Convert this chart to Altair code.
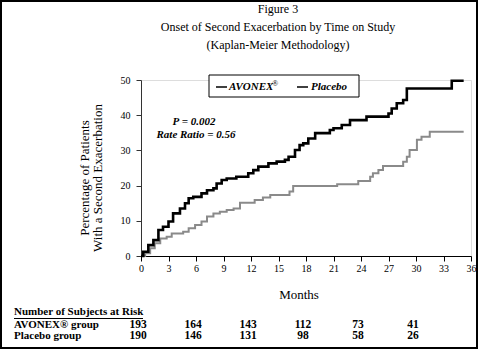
import altair as alt
import pandas as pd

# ---- data ----
avonex_months = [0, 0.25, 0.8, 1.35, 1.9, 2.4, 3.0, 3.5, 4.25, 4.8, 5.2, 5.7, 6.6, 7.2, 7.9,
                 8.25, 8.8, 9.35, 10.4, 11.7, 12.25, 12.8, 13.9, 14.8, 15.7, 16.1, 16.8, 17.3,
                 17.7, 18.25, 19.0, 20.6, 21.0, 21.9, 22.8, 24.6, 27.0, 27.35, 27.9, 28.6,
                 29.0, 33.9, 35.2]
avonex_pct = [0, 1.2, 3.1, 4.5, 7.4, 8.3, 9.8, 12.1, 13.5, 15.0, 16.4, 16.8, 17.8, 18.7, 19.2,
              20.6, 21.6, 22.0, 22.5, 23.5, 24.4, 25.4, 26.3, 26.8, 27.3, 28.2, 30.1, 31.5,
              32.0, 33.4, 34.9, 35.8, 36.3, 37.2, 38.6, 39.6, 40.5, 41.9, 43.4, 44.3,
              47.6, 49.8, 49.8]

placebo_months = [0, 0.45, 1.0, 1.5, 2.1, 2.8, 3.35, 4.6, 5.2, 5.9, 6.6, 7.2, 7.9, 8.6, 9.35,
                  10.1, 10.8, 12.4, 13.3, 14.1, 16.2, 16.6, 21.4, 23.7, 25.0, 25.3, 25.9, 26.4,
                  28.6, 29.0, 29.3, 30.1, 30.6, 31.5, 35.2]
placebo_pct = [0, 0.8, 2.2, 3.6, 5.0, 5.5, 6.4, 6.9, 7.9, 8.8, 9.8, 11.2, 12.1, 12.6, 13.1,
               13.5, 15.1, 15.9, 16.6, 17.3, 18.3, 19.9, 20.4, 21.3, 22.5, 23.5, 24.4, 25.6,
               26.8, 28.2, 30.1, 33.0, 33.9, 35.3, 35.3]

risk_months = [0, 6, 12, 18, 24, 30]
avonex_at_risk = [193, 164, 143, 112, 73, 41]
placebo_at_risk = [190, 146, 131, 98, 58, 26]

x_ticks = [0, 3, 6, 9, 12, 15, 18, 21, 24, 27, 30, 33, 36]
y_ticks = [0, 10, 20, 30, 40, 50]

title_lines = ["Figure 3", "Onset of Second Exacerbation by Time on Study",
               "(Kaplan-Meier Methodology)"]
y_title_lines = ["Percentage of Patients", "With a Second Exacerbation"]
x_title = "Months"
series_names = ["AVONEX", "Placebo"]
stats_lines = ["P = 0.002", "Rate Ratio = 0.56"]
table_header = "Number of Subjects at Risk"
row_labels = ["AVONEX\u00ae group", "Placebo group"]

FONT = "Liberation Serif"
W, H = 330, 176

x_scale = alt.Scale(domain=[0, 36], nice=False, zero=False)
y_scale = alt.Scale(domain=[0, 50], nice=False)

x_axis = alt.Axis(values=x_ticks, title=None, grid=False, tickSize=5, labelFontSize=10,
                  labelPadding=2, domainColor="black", tickColor="black", labelColor="black",
                  labelFont=FONT, format="d", labelOverlap=False, labelFlush=False)
y_axis = alt.Axis(values=y_ticks, title=None, grid=False, tickSize=5, labelFontSize=10,
                  labelPadding=6, domainColor="#333", tickColor="#333", labelColor="black",
                  labelFont=FONT, format="d", labelOverlap=False, labelFlush=False)


def xq(field):
    return alt.X(field, type="quantitative", scale=x_scale, axis=x_axis)


def yq(field):
    return alt.Y(field, type="quantitative", scale=y_scale, axis=y_axis)


av_df = pd.DataFrame({"month": avonex_months, "pct": avonex_pct})
pl_df = pd.DataFrame({"month": placebo_months, "pct": placebo_pct})

placebo_line = alt.Chart(pl_df).mark_line(interpolate="step-after", color="#8a8a8a",
                                          strokeWidth=2).encode(x=xq("month"), y=yq("pct"))
avonex_line = alt.Chart(av_df).mark_line(interpolate="step-after", color="black",
                                         strokeWidth=2.6).encode(x=xq("month"), y=yq("pct"))


def txt(s, x, y, **kw):
    base = dict(font=FONT, fontSize=12, color="black")
    base.update(kw)
    return alt.Chart(pd.DataFrame({"t": [s]})).mark_text(**base).encode(
        x=alt.value(x), y=alt.value(y), text="t:N")


one = pd.DataFrame({"a": [0]})

layers = [placebo_line, avonex_line]

# frame around figure
layers.append(alt.Chart(one).mark_rect(filled=False, stroke="black", strokeWidth=2).encode(
    x=alt.value(-140), x2=alt.value(336), y=alt.value(-79), y2=alt.value(268)))

# titles
layers.append(txt(title_lines[0], 137, -71, fontSize=12, baseline="middle"))
layers.append(txt(title_lines[1], 137, -53, fontSize=12, baseline="middle"))
layers.append(txt(title_lines[2], 137, -35, fontSize=12, baseline="middle"))

# y title (two rotated lines)
layers.append(txt(y_title_lines[0], -56, 98, fontSize=13, angle=270, baseline="middle"))
layers.append(txt(y_title_lines[1], -43, 98, fontSize=13, angle=270, baseline="middle"))

# x title
layers.append(txt(x_title, 158, 215, fontSize=13, baseline="middle"))

# legend box
layers.append(alt.Chart(one).mark_rect(fill="white", stroke="black", strokeWidth=1).encode(
    x=alt.value(68), x2=alt.value(218), y=alt.value(-5), y2=alt.value(17)))
layers.append(alt.Chart(one).mark_rule(color="black", strokeWidth=1.5).encode(
    x=alt.value(75), x2=alt.value(86), y=alt.value(7)))
layers.append(alt.Chart(one).mark_rule(color="black", strokeWidth=1.5).encode(
    x=alt.value(156), x2=alt.value(167), y=alt.value(7)))
layers.append(txt(series_names[0], 88, 7, fontSize=11, fontStyle="italic", fontWeight="bold",
                  align="left", baseline="middle"))
layers.append(txt("\u00ae", 131, 4, fontSize=8, fontStyle="italic", align="left",
                  baseline="middle"))
layers.append(txt(series_names[1], 170, 7, fontSize=11, fontStyle="italic", fontWeight="bold",
                  align="left", baseline="middle"))

# stats annotation
layers.append(txt(stats_lines[0], 53, 42, fontSize=11, fontStyle="italic", fontWeight="bold",
                  baseline="middle"))
layers.append(txt(stats_lines[1], 55, 55, fontSize=11, fontStyle="italic", fontWeight="bold",
                  baseline="middle"))

# table of subjects at risk
layers.append(txt(table_header, -127, 232, fontSize=11, fontWeight="bold", align="left",
                  baseline="middle"))
layers.append(alt.Chart(one).mark_rule(color="black", strokeWidth=1).encode(
    x=alt.value(-127), x2=alt.value(2), y=alt.value(238.5)))
layers.append(txt(row_labels[0], -127, 245, fontSize=11, fontWeight="bold", align="left",
                  baseline="middle"))
layers.append(txt(row_labels[1], -127, 256, fontSize=11, fontWeight="bold", align="left",
                  baseline="middle"))

risk_df = pd.DataFrame({"month": risk_months, "av": avonex_at_risk, "pl": placebo_at_risk})
layers.append(alt.Chart(risk_df).mark_text(font=FONT, fontSize=11.5, fontWeight="bold",
                                           color="black", baseline="middle", dx=-3).encode(
    x=xq("month"), y=alt.value(245), text="av:Q"))
layers.append(alt.Chart(risk_df).mark_text(font=FONT, fontSize=11.5, fontWeight="bold",
                                           color="black", baseline="middle", dx=-3).encode(
    x=xq("month"), y=alt.value(256), text="pl:Q"))

chart = alt.layer(*layers).properties(
    width=W, height=H,
    autosize=alt.AutoSizeParams(type="none"),
    padding={"left": 141, "top": 80, "right": 9, "bottom": 94},
    background="white",
).configure_view(stroke=None).configure(font=FONT)

chart.save("out.html", embed_options={"renderer": "svg", "actions": False})
